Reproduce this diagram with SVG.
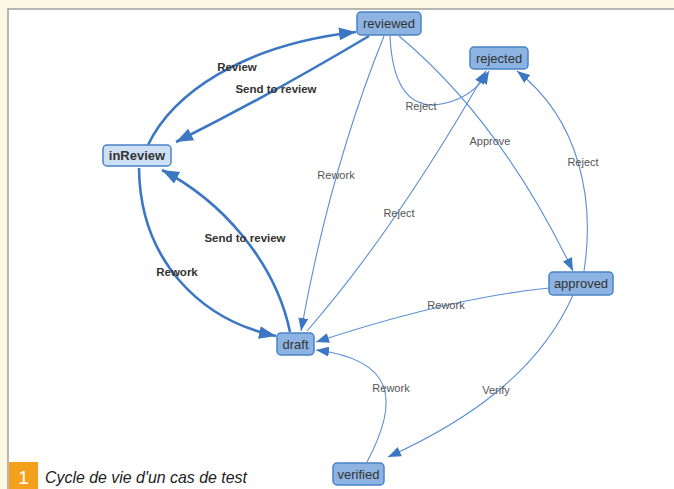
<svg xmlns="http://www.w3.org/2000/svg" width="674" height="489" viewBox="0 0 674 489">
<style>
.node rect{fill:#8db3e2;stroke:#4a82c8;stroke-width:1.5}
.node text{font-family:"Liberation Sans",Arial,sans-serif;font-size:13px;fill:#333;text-anchor:middle}
.thin{fill:none;stroke:#5a8fd2;stroke-width:1.1}
.thick{fill:none;stroke:#3b77c2;stroke-width:2.6}
.lbl{font-family:"Liberation Sans",Arial,sans-serif;font-size:11px;fill:#555;text-anchor:middle}
.blbl{font-family:"Liberation Sans",Arial,sans-serif;font-size:11.5px;font-weight:bold;fill:#333;text-anchor:middle}
</style>
<defs>
<marker id="aThin" markerUnits="userSpaceOnUse" markerWidth="13" markerHeight="10" refX="13" refY="5" orient="auto"><path d="M0,0 L13,5 L0,10 z" fill="#3b77c2"/></marker>
<marker id="aThick" markerUnits="userSpaceOnUse" markerWidth="17" markerHeight="13" refX="17" refY="6.5" orient="auto"><path d="M0,0 L17,6.5 L0,13 z" fill="#3b77c2"/></marker>
</defs>
<rect x="0" y="0" width="674" height="489" fill="#fdf8e4"/>
<rect x="8" y="9" width="680" height="490" fill="#ffffff" stroke="#8a8a8a" stroke-width="1.2"/>
<g id="connectors">
<path class="thick" d="M148,145 C172,95 240,45 356,32" marker-end="url(#aThick)"/>
<path class="thick" d="M369,36 Q270,95 176,142" marker-end="url(#aThick)"/>
<path class="thick" d="M139,168 C140,260 200,320 276,336" marker-end="url(#aThick)"/>
<path class="thick" d="M290,332 C275,260 220,200 162,170" marker-end="url(#aThick)"/>
<path class="thin" d="M384,36 Q330,170 301,331" marker-end="url(#aThin)"/>
<path class="thin" d="M390,36 C392,80 405,106 435,105 C460,102 478,90 489,71" marker-end="url(#aThin)"/>
<path class="thin" d="M399,36 Q500,120 573,271" marker-end="url(#aThin)"/>
<path class="thin" d="M307,331 Q395,230 486,71" marker-end="url(#aThin)"/>
<path class="thin" d="M584,271 C595,200 580,120 517,71" marker-end="url(#aThin)"/>
<path class="thin" d="M549,288 Q450,298 316,342" marker-end="url(#aThin)"/>
<path class="thin" d="M573,295 C540,370 470,420 388,457" marker-end="url(#aThin)"/>
<path class="thin" d="M367,462 C400,400 395,360 316,350" marker-end="url(#aThin)"/>
<text class="blbl" x="237" y="71">Review</text>
<text class="blbl" x="276" y="93">Send to review</text>
<text class="blbl" x="245" y="242">Send to review</text>
<text class="blbl" x="177" y="276">Rework</text>
<text class="lbl" x="421" y="110">Reject</text>
<text class="lbl" x="490" y="145">Approve</text>
<text class="lbl" x="336" y="179">Rework</text>
<text class="lbl" x="399" y="217">Reject</text>
<text class="lbl" x="583" y="166">Reject</text>
<text class="lbl" x="446" y="309">Rework</text>
<text class="lbl" x="496" y="394">Verify</text>
<text class="lbl" x="391" y="392">Rework</text>
</g>
<g id="reviewed" class="node"><rect x="357" y="12" width="64" height="23" rx="4"/><text x="389" y="28">reviewed</text></g>
<g id="rejected" class="node"><rect x="470" y="47" width="58" height="22" rx="4"/><text x="499" y="62.5">rejected</text></g>
<g id="inReview" class="node"><rect x="103" y="145" width="68" height="21" rx="4" style="fill:#cfe0f5"/><text x="137" y="160" style="font-weight:bold">inReview</text></g>
<g id="approved" class="node"><rect x="549" y="272" width="64" height="23" rx="4"/><text x="581" y="288">approved</text></g>
<g id="draft" class="node"><rect x="277" y="333" width="37" height="22" rx="4"/><text x="295.5" y="348.5">draft</text></g>
<g id="verified" class="node"><rect x="333" y="463" width="51" height="22" rx="4"/><text x="358.5" y="478.5">verified</text></g>
<g id="caption">
<rect x="9" y="462" width="29" height="27" fill="#f5a01c"/>
<text x="23.5" y="484" font-family="'Liberation Sans',Arial,sans-serif" font-size="19" fill="#ffffff" text-anchor="middle">1</text>
<text x="45" y="483" font-family="'Liberation Sans',Arial,sans-serif" font-size="17" font-style="italic" fill="#222" textLength="202" lengthAdjust="spacingAndGlyphs">Cycle de vie d'un cas de test</text>
</g>
</svg>
